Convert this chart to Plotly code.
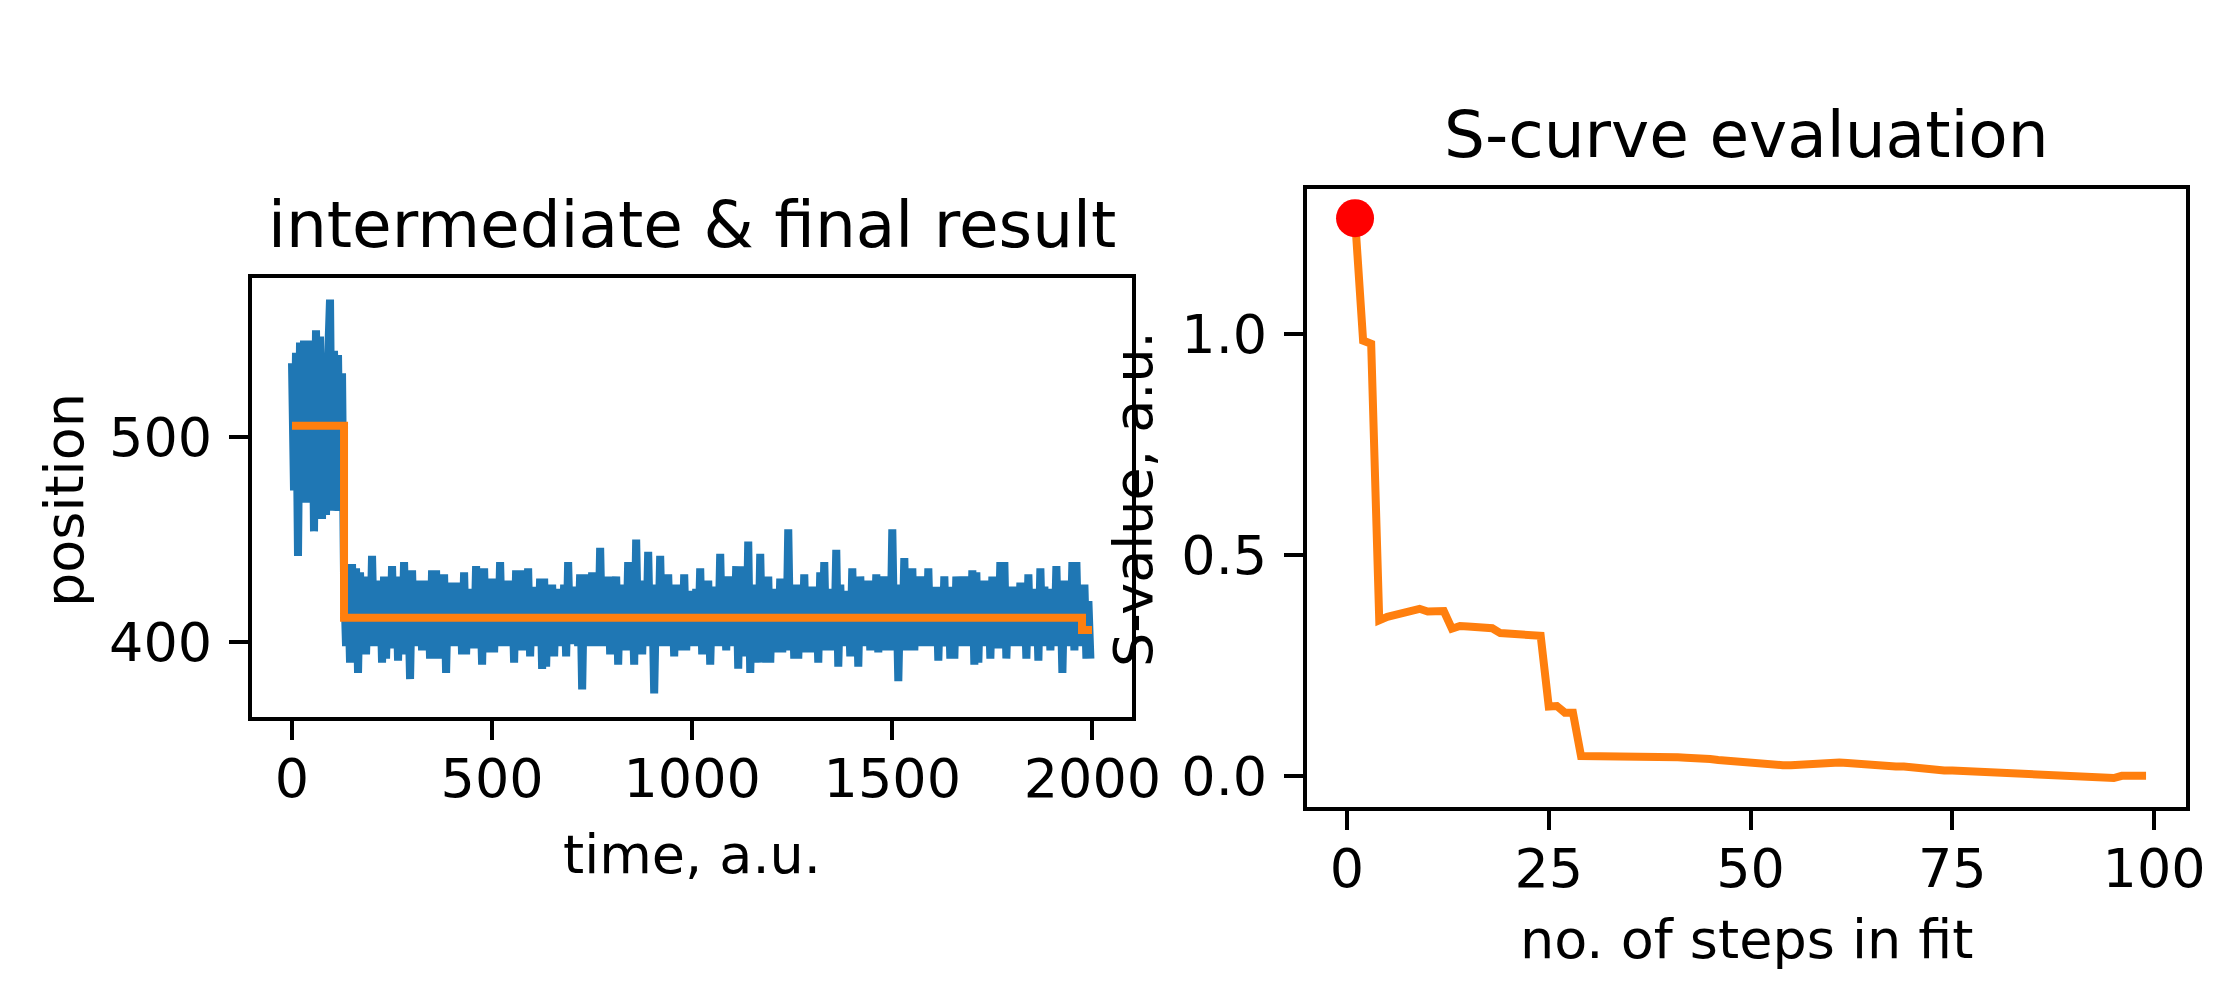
import plotly.graph_objects as go

# ---------------- data ----------------
# left panel: noisy position trace (read off the picture, sampled every 5 time units)
time = list(range(0, 2000, 5))
position = [
    536, 474, 541, 442, 546, 470, 547, 468, 545, 472, 547, 454, 552, 463, 549, 460, 541, 462, 538, 567,
    464, 542, 466, 540, 464, 531, 431, 398, 430, 390, 438, 392, 436, 385, 434, 396, 432, 394, 427, 398,
    442, 398, 430, 398, 430, 390, 432, 392, 428, 398, 437, 397, 432, 391, 430, 394, 439, 399, 426, 382,
    435, 398, 428, 398, 430, 396, 430, 398, 425, 392, 435, 394, 435, 392, 427, 399, 433, 385, 428, 399,
    429, 398, 429, 398, 426, 394, 434, 394, 426, 398, 426, 397, 437, 398, 425, 389, 436, 398, 430, 395,
    431, 395, 428, 398, 439, 398, 428, 399, 430, 398, 425, 390, 435, 396, 435, 396, 426, 398, 436, 393,
    427, 399, 425, 398, 431, 387, 431, 388, 428, 393, 428, 393, 426, 399, 426, 398, 428, 393, 439, 399,
    425, 399, 427, 398, 433, 377, 433, 399, 426, 398, 434, 398, 426, 398, 446, 398, 426, 398, 432, 394,
    426, 398, 432, 389, 428, 398, 426, 396, 439, 398, 426, 389, 450, 398, 426, 394, 430, 398, 444, 398,
    428, 375, 426, 398, 442, 398, 428, 398, 433, 398, 426, 393, 428, 398, 426, 396, 433, 396, 425, 398,
    425, 398, 426, 398, 436, 394, 426, 398, 430, 389, 427, 398, 427, 398, 443, 398, 426, 396, 432, 398,
    426, 398, 437, 387, 437, 398, 426, 393, 449, 385, 428, 398, 426, 390, 443, 396, 428, 390, 432, 390,
    426, 395, 426, 395, 431, 395, 428, 396, 455, 396, 427, 392, 428, 392, 426, 398, 433, 395, 426, 395,
    427, 398, 426, 390, 434, 398, 439, 396, 426, 396, 425, 398, 445, 388, 428, 398, 425, 398, 425, 393,
    436, 398, 430, 388, 432, 398, 426, 398, 430, 396, 427, 398, 433, 395, 426, 398, 432, 396, 428, 396,
    455, 398, 428, 381, 426, 398, 441, 396, 426, 398, 436, 396, 426, 398, 432, 398, 428, 398, 436, 398,
    426, 398, 427, 391, 425, 398, 432, 398, 427, 392, 426, 392, 432, 398, 426, 398, 432, 398, 426, 398,
    435, 389, 434, 390, 428, 398, 430, 399, 426, 392, 432, 398, 426, 397, 439, 398, 439, 392, 426, 398,
    427, 398, 426, 398, 429, 398, 426, 392, 433, 398, 425, 398, 426, 391, 436, 398, 427, 398, 425, 396,
    426, 398, 437, 398, 426, 385, 430, 398, 426, 398, 439, 396, 439, 398, 426, 398, 428, 392, 420, 392,
]

# left panel: fitted step result
fit_time = [0, 130, 1974, 1999]
fit_level = [505.5, 411.9, 405.9, 405.9]

# right panel: S-curve
steps = list(range(1, 100))
s_value = [
    1.262, 0.985, 0.978, 0.352, 0.360, 0.364, 0.369, 0.372, 0.378, 0.372,
    0.372, 0.373, 0.333, 0.339, 0.338, 0.337, 0.336, 0.334, 0.323, 0.321,
    0.320, 0.318, 0.318, 0.317, 0.157, 0.158, 0.143, 0.143, 0.045, 0.045,
    0.046, 0.045, 0.044, 0.043, 0.044, 0.046, 0.045, 0.044, 0.043, 0.042,
    0.042, 0.041, 0.041, 0.040, 0.038, 0.036, 0.034, 0.033, 0.032, 0.030,
    0.027, 0.025, 0.025, 0.024, 0.024, 0.025, 0.027, 0.030, 0.029, 0.030,
    0.030, 0.029, 0.027, 0.026, 0.025, 0.023, 0.022, 0.021, 0.021, 0.019,
    0.016, 0.013, 0.012, 0.012, 0.012, 0.011, 0.011, 0.011, 0.009, 0.007,
    0.006, 0.006, 0.005, 0.003, 0.003, 0.003, 0.001, 0.001, 0.000, -0.001,
    -0.002, -0.002, -0.003, -0.003, -0.005, 0.000, 0.000, 0.000, 0.000,
]
best_step = [1]
best_value = [1.262]

x_ticks_left = [0, 500, 1000, 1500, 2000]
y_ticks_left = [400, 500]
x_ticks_right = [0, 25, 50, 75, 100]
y_ticks_right = [0.0, 0.5, 1.0]
y_ticktext_right = ["0.0", "0.5", "1.0"]

# ---------------- figure ----------------
W, H = 2239, 994
FONT = "DejaVu Sans"
TICK = 54
TITLE = 64.5
BLUE = "#1f77b4"
ORANGE = "#ff7f0e"

fig = go.Figure()
fig.add_trace(go.Scatter(x=time, y=position, mode="lines",
                         line=dict(color=BLUE, width=8, simplify=False),
                         xaxis="x", yaxis="y", showlegend=False))
fig.add_trace(go.Scatter(x=fit_time, y=fit_level, mode="lines",
                         line=dict(color=ORANGE, width=8, shape="hv"),
                         xaxis="x", yaxis="y", showlegend=False))
fig.add_trace(go.Scatter(x=steps, y=s_value, mode="lines",
                         line=dict(color=ORANGE, width=8),
                         xaxis="x2", yaxis="y2", showlegend=False))
fig.add_trace(go.Scatter(x=best_step, y=best_value, mode="markers",
                         marker=dict(color="red", size=38),
                         xaxis="x2", yaxis="y2", showlegend=False))

axis_common = dict(showgrid=False, zeroline=False, showline=True, linecolor="black",
                   linewidth=4, mirror=True, ticks="outside", ticklen=19, tickwidth=4,
                   tickcolor="black", automargin=False,
                   tickfont=dict(family=FONT, size=TICK, color="black"))

fig.update_layout(
    width=W, height=H, autosize=False,
    margin=dict(l=0, r=0, t=0, b=0),
    paper_bgcolor="white", plot_bgcolor="white",
    font=dict(family=FONT, color="black"),
    xaxis=dict(domain=[252 / W, 1132 / W], range=[-99.95, 2098.95], tickvals=x_ticks_left,
               anchor="y", ticklabelstandoff=-8, **axis_common),
    yaxis=dict(domain=[(H - 717) / H, (H - 278) / H], range=[363.5, 577.5], tickvals=y_ticks_left,
               anchor="x", ticklabelstandoff=6, **axis_common),
    xaxis2=dict(domain=[1307 / W, 2186 / W], range=[-4.95, 103.95], tickvals=x_ticks_right,
                anchor="y2", ticklabelstandoff=-8, **axis_common),
    yaxis2=dict(domain=[(H - 807) / H, (H - 189) / H], range=[-0.0705, 1.328],
                tickvals=y_ticks_right, ticktext=y_ticktext_right,
                anchor="x2", ticklabelstandoff=6, **axis_common),
)

def ann(text, x, y, size, angle=0, xanchor="center", yanchor="middle"):
    fig.add_annotation(text=text, x=x / W, y=(H - y) / H, xref="paper", yref="paper",
                       showarrow=False, textangle=angle, xanchor=xanchor, yanchor=yanchor,
                       font=dict(family=FONT, size=size, color="black"))

ann("intermediate &amp; final result", 692, 247 - 0.345 * TITLE, TITLE)
ann("S-curve evaluation", 1746.5, 157 - 0.345 * TITLE, TITLE)
ann("time, a.u.", 692, 854, TICK)
ann("no. of steps in fit", 1746.5, 939, TICK)
ann("position", 65, 500, TICK, angle=-90)
ann("S-value, a.u.", 1133, 499, TICK, angle=-90)

fig.write_html("out.html")
